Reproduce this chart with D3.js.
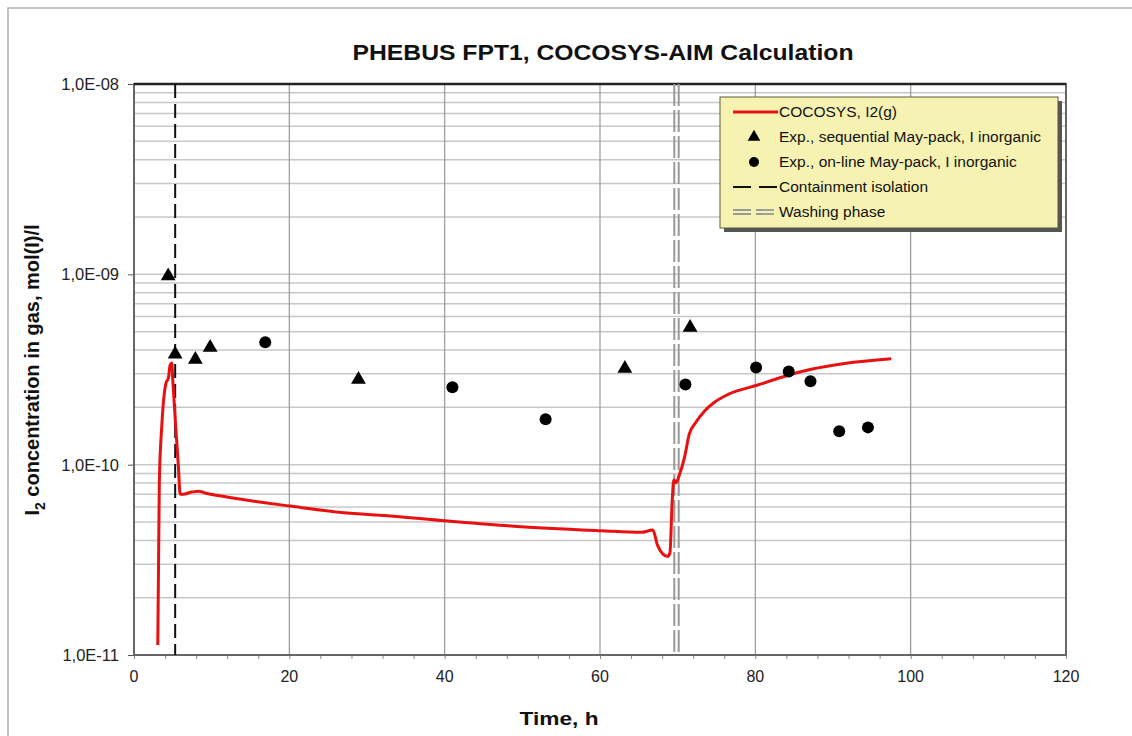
<!DOCTYPE html>
<html><head><meta charset="utf-8">
<script src="https://cdn.jsdelivr.net/npm/d3@7"></script>
<style>html,body{margin:0;padding:0;background:#fff;}svg{display:block;font-family:"Liberation Sans",Arial,sans-serif;}</style>
</head><body>
<svg id="c" width="1132" height="736"></svg>
<script>
// ---- data ----
const curveT = [3.06,3.26,3.57,3.78,4.13,4.43,4.65,4.86,4.99,5.29,5.72,5.94,6.36,7.45,8.3,9.16,11.96,20.1,27.9,31.7,40.1,48.9,60.1,65.3,66.8,67.4,68.1,68.7,69.0,69.3,69.5,69.8,70.2,70.9,71.5,72.3,73.5,74.7,76.5,80.3,83.4,87.2,91.5,97.5];
const curveV = [1.13e-11,8.0e-11,1.58e-10,2.11e-10,2.69e-10,2.85e-10,3.34e-10,3.42e-10,2.79e-10,1.78e-10,9.7e-11,7.0e-11,7.0e-11,7.18e-11,7.26e-11,7.1e-11,6.76e-11,6.06e-11,5.55e-11,5.43e-11,5.07e-11,4.75e-11,4.50e-11,4.41e-11,4.53e-11,3.78e-11,3.39e-11,3.30e-11,3.43e-11,6.5e-11,8.3e-11,8.04e-11,8.8e-11,1.10e-10,1.45e-10,1.66e-10,1.92e-10,2.12e-10,2.34e-10,2.62e-10,2.88e-10,3.17e-10,3.40e-10,3.60e-10];
const seqT = [4.4,5.3,7.9,9.8,28.9,63.2,71.6];
const seqV = [9.8e-10,3.8e-10,3.57e-10,4.13e-10,2.8e-10,3.2e-10,5.26e-10];
const onlT = [16.9,41.0,53.0,71.0,80.1,84.3,87.1,90.8,94.5];
const onlV = [4.4e-10,2.55e-10,1.73e-10,2.64e-10,3.24e-10,3.09e-10,2.74e-10,1.50e-10,1.57e-10];
const containmentT = 5.3;
const washingT = 69.85;
const xTicks = [0,20,40,60,80,100,120];
const yTicks = [1e-8,1e-9,1e-10,1e-11];
const yTickLabels = ["1,0E-08","1,0E-09","1,0E-10","1,0E-11"];
const legendLabels = ["COCOSYS, I2(g)","Exp., sequential May-pack, I  inorganic","Exp., on-line May-pack, I  inorganic","Containment isolation","Washing phase"];
const title = "PHEBUS FPT1, COCOSYS-AIM Calculation";

// ---- layout ----
const L=134,R=1066,T=84,B=655;
const svg=d3.select("#c");
const x=d3.scaleLinear().domain([0,120]).range([L,R]);
const y=d3.scaleLog().domain([1e-11,1e-8]).range([B,T]);

// outer frame
svg.append("path").attr("d",`M8,736 L8,8 L1132,8`).attr("fill","none").attr("stroke","#b0b0b0").attr("stroke-width",1.5);

// horizontal minor grid
const minorY=[];
for(let e=-11;e<-8;e++){for(let m=1;m<10;m++){if(m===1&&e===-11)continue;minorY.push(m*Math.pow(10,e));}}
svg.append("g").selectAll("line").data(minorY).join("line")
 .attr("x1",L).attr("x2",R).attr("y1",d=>y(d)).attr("y2",d=>y(d))
 .attr("stroke","#c8c8c8").attr("stroke-width",1.5);
// vertical grid
svg.append("g").selectAll("line").data(xTicks.slice(1,-1)).join("line")
 .attr("x1",d=>x(d)).attr("x2",d=>x(d)).attr("y1",T).attr("y2",B)
 .attr("stroke","#999").attr("stroke-width",1.2);

// axes
const xAxis=d3.axisBottom(x).tickValues(d3.range(0,121,4)).tickSize(4).tickFormat("");
const gx=svg.append("g").attr("transform",`translate(0,${B})`).call(xAxis);
gx.select(".domain").remove();
gx.selectAll("line").attr("stroke","#888");
svg.append("g").selectAll("text").data(xTicks).join("text")
 .attr("x",d=>x(d)).attr("y",B+27).attr("text-anchor","middle").attr("font-size",16).attr("fill","#222").text(d=>d);

const yAxis=d3.axisLeft(y).tickValues(yTicks).tickSize(6).tickFormat("");
const gy=svg.append("g").attr("transform",`translate(${L},0)`).call(yAxis);
gy.select(".domain").remove();
gy.selectAll("line").attr("stroke","#555");
svg.append("g").selectAll("text").data(yTicks).join("text")
 .attr("x",L-15).attr("y",d=>y(d)+6).attr("text-anchor","end").attr("font-size",16.5).attr("fill","#222")
 .text((d,i)=>yTickLabels[i]);

// plot frame
svg.append("rect").attr("x",L).attr("y",T).attr("width",R-L).attr("height",B-T)
 .attr("fill","none").attr("stroke","#666").attr("stroke-width",2);
svg.append("line").attr("x1",L).attr("x2",R).attr("y1",T).attr("y2",T).attr("stroke","#222").attr("stroke-width",2.5);

// vertical marker lines
svg.append("line").attr("x1",x(containmentT)).attr("x2",x(containmentT)).attr("y1",T).attr("y2",B)
 .attr("stroke","#111").attr("stroke-width",2).attr("stroke-dasharray","14,6");
[-2.2,2.2].forEach(o=>{
 svg.append("line").attr("x1",x(washingT)+o).attr("x2",x(washingT)+o).attr("y1",T).attr("y2",B)
  .attr("stroke","#999").attr("stroke-width",2).attr("stroke-dasharray","22,4");
});

// curve
const curve=curveT.map((t,i)=>[t,curveV[i]]);
svg.append("path").datum(curve)
 .attr("d",d3.line().x(d=>x(d[0])).y(d=>y(d[1])).curve(d3.curveMonotoneX))
 .attr("fill","none").attr("stroke","#e81010").attr("stroke-width",3).attr("stroke-linejoin","round");

// markers
const tri=d3.symbol().type(d3.symbolTriangle).size(95);
svg.append("g").selectAll("path").data(seqT.map((t,i)=>[t,seqV[i]])).join("path")
 .attr("transform",d=>`translate(${x(d[0])},${y(d[1])})`).attr("d",tri).attr("fill","#000");
svg.append("g").selectAll("circle").data(onlT.map((t,i)=>[t,onlV[i]])).join("circle")
 .attr("cx",d=>x(d[0])).attr("cy",d=>y(d[1])).attr("r",6).attr("fill","#000");

// legend
const lg=svg.append("g");
lg.append("rect").attr("x",724).attr("y",101).attr("width",338).attr("height",131).attr("fill","#555");
lg.append("rect").attr("x",720).attr("y",97).attr("width",338).attr("height",131).attr("fill","#f6f2b2").attr("stroke","#5a5a40").attr("stroke-width",1);
const ly=[112,137,162,187,212];
lg.append("line").attr("x1",733).attr("x2",778).attr("y1",ly[0]).attr("y2",ly[0]).attr("stroke","#e81010").attr("stroke-width",3);
lg.append("path").attr("transform",`translate(754,${ly[1]})`).attr("d",d3.symbol().type(d3.symbolTriangle).size(70)).attr("fill","#000");
lg.append("circle").attr("cx",754).attr("cy",ly[2]).attr("r",5).attr("fill","#000");
lg.append("line").attr("x1",733).attr("x2",778).attr("y1",ly[3]).attr("y2",ly[3]).attr("stroke","#111").attr("stroke-width",2).attr("stroke-dasharray","18,8");
[-2,2].forEach(o=>lg.append("line").attr("x1",733).attr("x2",778).attr("y1",ly[4]+o).attr("y2",ly[4]+o).attr("stroke","#999").attr("stroke-width",1.8).attr("stroke-dasharray","18,5"));
lg.selectAll("text").data(legendLabels).join("text")
 .attr("x",779).attr("y",(d,i)=>ly[i]+5).attr("font-size",15.5).attr("fill","#111").text(d=>d);

// title & axis labels
svg.append("text").attr("x",603).attr("y",60).attr("text-anchor","middle").attr("font-size",22).attr("font-weight","bold").attr("fill","#111")
 .attr("textLength",501).attr("lengthAdjust","spacingAndGlyphs").text(title);
svg.append("text").attr("x",559).attr("y",725).attr("text-anchor","middle").attr("font-size",19).attr("font-weight","bold").attr("fill","#111")
 .attr("textLength",79).attr("lengthAdjust","spacingAndGlyphs").text("Time, h");
const yl=svg.append("text").attr("transform","translate(39,370) rotate(-90)").attr("text-anchor","middle").attr("font-size",20).attr("font-weight","bold").attr("fill","#111");
yl.append("tspan").text("I");
yl.append("tspan").attr("font-size",14).attr("dy",6).text("2");
yl.append("tspan").attr("dy",-6).text(" concentration in gas, mol(I)/l");
</script>
</body></html>
